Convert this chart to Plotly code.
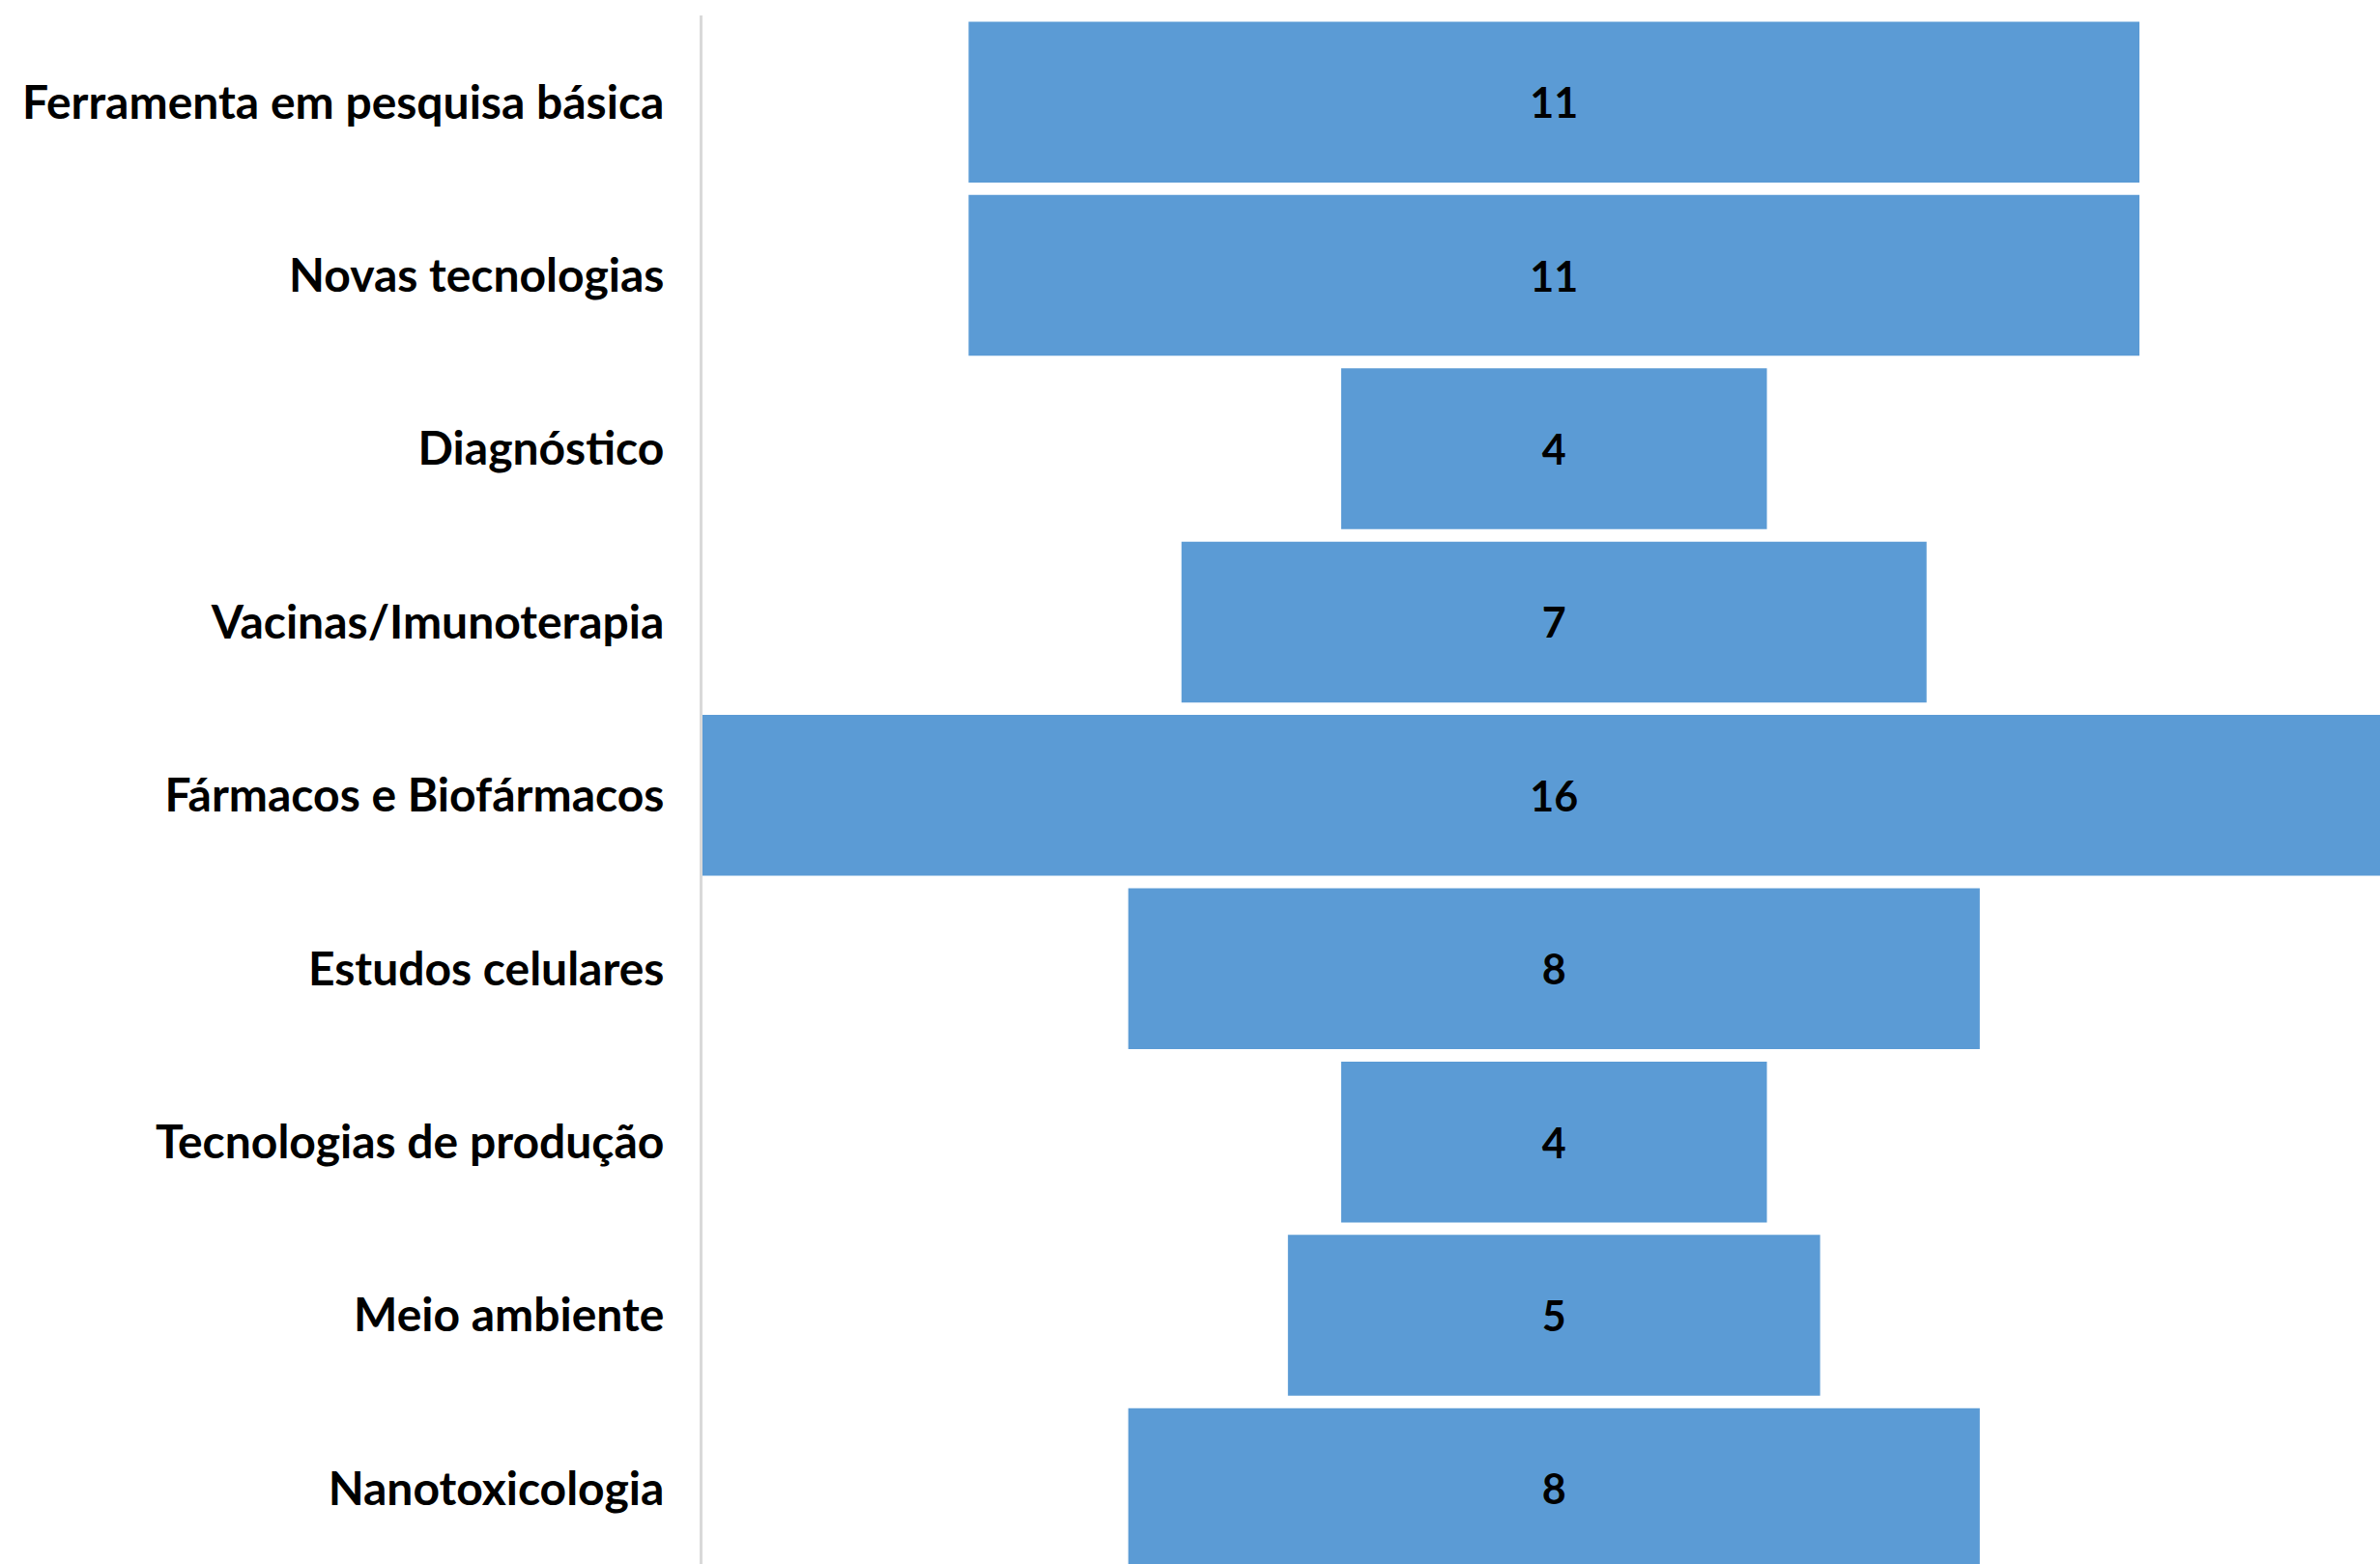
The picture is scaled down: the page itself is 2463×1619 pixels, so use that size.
import plotly.graph_objects as go

categories = [
    "Ferramenta em pesquisa básica",
    "Novas tecnologias",
    "Diagnóstico",
    "Vacinas/Imunoterapia",
    "Fármacos e Biofármacos",
    "Estudos celulares",
    "Tecnologias de produção",
    "Meio ambiente",
    "Nanotoxicologia",
]
values = [11, 11, 4, 7, 16, 8, 4, 5, 8]

BAR_COLOR = "#5B9BD5"
FONT = "Lato"

fig = go.Figure(
    go.Funnel(
        y=categories,
        x=values,
        textinfo="value",
        textposition="inside",
        insidetextanchor="middle",
        textfont=dict(family=FONT, size=43, color="black", weight="bold"),
        marker=dict(color=BAR_COLOR, line=dict(width=0)),
        connector=dict(visible=False),
    )
)

fig.update_layout(
    width=2463,
    height=1619,
    margin=dict(l=727, r=0, t=16, b=0),
    paper_bgcolor="white",
    plot_bgcolor="white",
    showlegend=False,
    funnelgap=0.072,
    font=dict(family=FONT, color="black"),
)
fig.update_xaxes(visible=False, range=[-8, 7.76])
fig.update_yaxes(
    range=[8.435, -0.5],
    autorange=False,
    showline=True,
    linecolor="#d9d9d9",
    linewidth=3,
    ticks="",
    showgrid=False,
    zeroline=False,
    ticklabelstandoff=27,
    tickfont=dict(family=FONT, size=48, color="black", weight="bold"),
)

fig.write_html(
    "out.html",
    config={"displayModeBar": False},
    post_script="document.body.style.margin='0';document.body.style.overflow='hidden';",
)
